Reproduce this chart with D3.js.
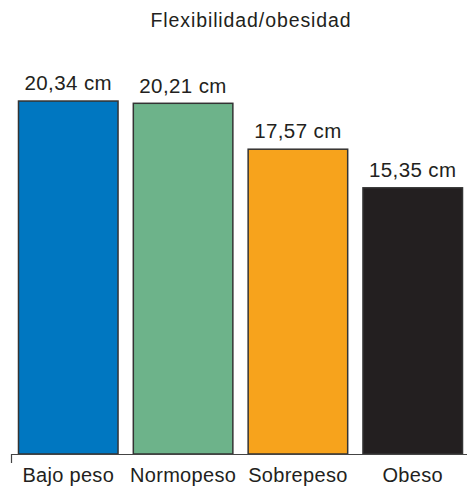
<!DOCTYPE html>
<html><head><meta charset="utf-8">
<script src="https://cdn.jsdelivr.net/npm/d3@7"></script>
<style>body{margin:0;background:#fff}svg{display:block}text{font-family:"Liberation Sans",Arial,sans-serif;fill:#231f20}</style>
</head><body><div id="chart"></div>
<script>
const title = "Flexibilidad/obesidad";
const categories = ["Bajo peso", "Normopeso", "Sobrepeso", "Obeso"];
const values = [20.34, 20.21, 17.57, 15.35];
const valueLabels = ["20,34 cm", "20,21 cm", "17,57 cm", "15,35 cm"];
const colors = ["#0077c1", "#6db38a", "#f7a31c", "#231f20"];

const W = 467, H = 488;
const svg = d3.select("#chart").append("svg").attr("width", W).attr("height", H);

const x = d3.scaleBand().domain(categories).range([12, 469]).paddingInner(0.12).paddingOuter(0.05);
const y = d3.scaleLinear().domain([0, 26]).range([454, 454 - 26 * 17.39]);

svg.append("text").attr("x", 251).attr("y", 27).attr("text-anchor", "middle")
  .style("font-size", "19.5px").style("letter-spacing", "0.9px").text(title);

svg.selectAll("rect.bar").data(categories).join("rect").attr("class", "bar")
  .attr("x", d => x(d) + 0.75)
  .attr("width", x.bandwidth() - 1.5)
  .attr("y", (d, i) => y(values[i]) + 0.75)
  .attr("height", (d, i) => y(0) - y(values[i]) - 0.75)
  .attr("fill", (d, i) => colors[i])
  .attr("stroke", "#333")
  .attr("stroke-width", 1.5);

svg.selectAll("text.val").data(categories).join("text").attr("class", "val")
  .attr("x", d => x(d) + x.bandwidth() / 2)
  .attr("y", (d, i) => y(values[i]) - 10)
  .attr("text-anchor", "middle")
  .style("font-size", "20.5px").style("letter-spacing", "0.4px")
  .text((d, i) => valueLabels[i]);

// axis
const axisG = svg.append("g").attr("transform", `translate(0,${y(0)})`);
axisG.append("path").attr("d", `M11.5,9V0.5H467`).attr("fill", "none").attr("stroke", "#444").attr("stroke-width", 1.2);
axisG.selectAll("text").data(categories).join("text")
  .attr("x", d => x(d) + x.bandwidth() / 2)
  .attr("y", 28)
  .attr("text-anchor", "middle")
  .style("font-size", "20px").style("letter-spacing", "0.3px")
  .text(d => d);
</script></body></html>
